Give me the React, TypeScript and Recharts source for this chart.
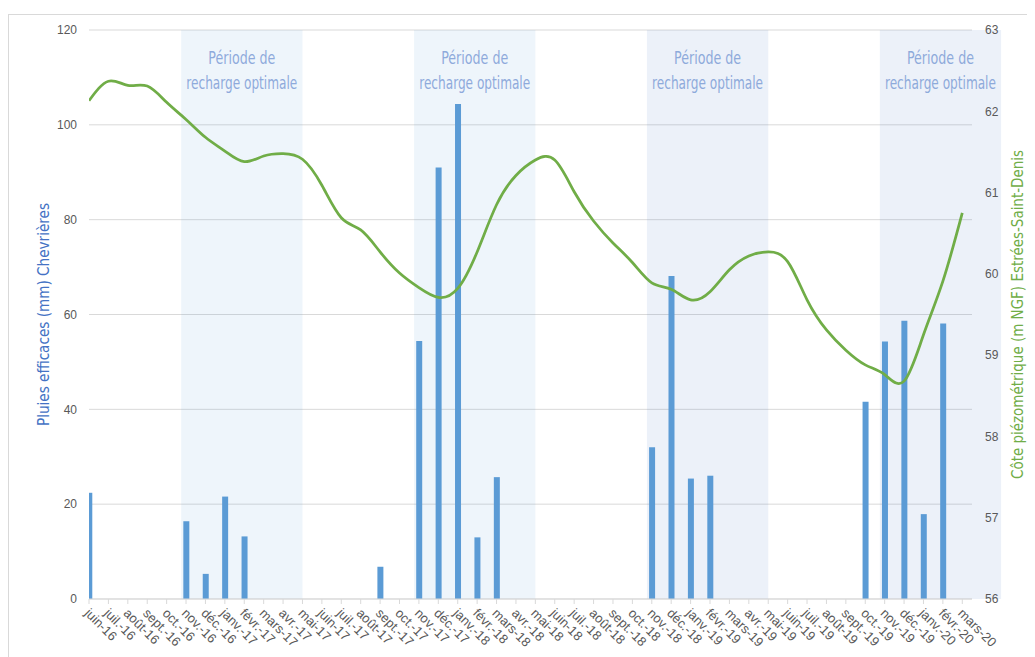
import React from 'react';
import {
  ComposedChart, Bar, Line, XAxis, YAxis, CartesianGrid, ReferenceArea,
} from 'recharts';

const months = [
  'juin-16', 'juil.-16', 'août-16', 'sept.-16', 'oct.-16', 'nov.-16', 'déc.-16', 'janv.-17', 'févr.-17', 'mars-17', 'avr.-17', 'mai-17',
  'juin-17', 'juil.-17', 'août-17', 'sept.-17', 'oct.-17', 'nov.-17', 'déc.-17', 'janv.-18', 'févr.-18', 'mars-18', 'avr.-18', 'mai-18',
  'juin-18', 'juil.-18', 'août-18', 'sept.-18', 'oct.-18', 'nov.-18', 'déc.-18', 'janv.-19', 'févr.-19', 'mars-19', 'avr.-19', 'mai-19',
  'juin-19', 'juil.-19', 'août-19', 'sept.-19', 'oct.-19', 'nov.-19', 'déc.-19', 'janv.-20', 'févr.-20', 'mars-20',
];

// Pluies efficaces (mm) Chevrières
const rain = [
  22.4, 0, 0, 0, 0, 16.4, 5.3, 21.6, 13.2, 0, 0, 0,
  0, 0, 0, 6.8, 0, 54.4, 91.0, 104.4, 13.0, 25.7, 0, 0,
  0, 0, 0, 0, 0, 32.0, 68.1, 25.4, 26.0, 0, 0, 0,
  0, 0, 0, 0, 41.6, 54.3, 58.7, 17.9, 58.1, 0,
];

// Côte piézométrique (m NGF) Estrées-Saint-Denis
const piezo = [
  62.13, 62.37, 62.32, 62.31, 62.11, 61.90, 61.68, 61.51, 61.38, 61.45, 61.48, 61.41,
  61.09, 60.69, 60.54, 60.27, 60.01, 59.83, 59.71, 59.82, 60.27, 60.85, 61.21, 61.40,
  61.40, 61.01, 60.65, 60.38, 60.14, 59.89, 59.81, 59.68, 59.78, 60.05, 60.22, 60.27,
  60.15, 59.68, 59.31, 59.06, 58.88, 58.76, 58.68, 59.25, 59.91, 60.75,
];

// périodes de recharge optimale (positions en mois depuis juin-16)
const rechargeStart = [4.75, 16.75, 28.75, 40.75];
const rechargeEnd = [11, 23, 35, 47];
const rechargeTint = ['#5B9BD5', '#5B9BD5', '#4472C4', '#4472C4'];

const leftTicks = [0, 20, 40, 60, 80, 100, 120];
const rightTicks = [56, 57, 58, 59, 60, 61, 62, 63];

const data = months.map((m, i) => ({ idx: i, month: m, rain: rain[i], piezo: piezo[i] }));
const monthTicks = months.map((_, i) => i);

const condensed = "'DejaVu Sans Condensed', 'Liberation Sans Narrow', 'DejaVu Sans', sans-serif";
const tickFont = "'Liberation Sans', Arial, sans-serif";

const MonthTick = (props: any) => {
  const { x, y, payload } = props;
  const tx = x - 5;
  const ty = y + 8;
  return (
    <text
      x={tx}
      y={ty}
      transform={`rotate(45 ${tx} ${ty})`}
      textAnchor="start"
      fontSize={13}
      fill="#595959"
      fontFamily={tickFont}
    >
      {months[payload.value]}
    </text>
  );
};

const PeriodLabel = (props: any) => {
  const { viewBox } = props;
  if (!viewBox) return null;
  const cx = viewBox.x + viewBox.width / 2;
  return (
    <g fill="#8EAADB" fontFamily={condensed} fontSize={17} textAnchor="middle" style={{ fontStretch: 'condensed' }}>
      <text x={cx} y={viewBox.y + 34} textLength={67} lengthAdjust="spacingAndGlyphs">Période de</text>
      <text x={cx} y={viewBox.y + 59} textLength={111} lengthAdjust="spacingAndGlyphs">recharge optimale</text>
    </g>
  );
};

const LeftTitle = (props: any) => {
  const { viewBox } = props;
  const cx = viewBox.x + 14;
  const cy = viewBox.y + viewBox.height / 2;
  return (
    <text
      x={cx}
      y={cy}
      transform={`rotate(-90 ${cx} ${cy})`}
      textAnchor="middle"
      dominantBaseline="central"
      fill="#4472C4"
      fontSize={16}
      fontFamily={condensed}
      textLength={223}
      lengthAdjust="spacingAndGlyphs"
    >
      Pluies efficaces (mm) Chevrières
    </text>
  );
};

const RightTitle = (props: any) => {
  const { viewBox } = props;
  const cx = viewBox.x + 45;
  const cy = viewBox.y + viewBox.height / 2;
  return (
    <text
      x={cx}
      y={cy}
      transform={`rotate(-90 ${cx} ${cy})`}
      textAnchor="middle"
      dominantBaseline="central"
      fill="#70AD47"
      fontSize={16}
      fontFamily={condensed}
      textLength={329}
      lengthAdjust="spacingAndGlyphs"
    >
      Côte piézométrique (m NGF) Estrées-Saint-Denis
    </text>
  );
};

export default function App() {
  return (
    <div
      style={{
        width: 1021,
        height: 660,
        marginTop: 6,
        border: '1px solid #D9D9D9',
        background: '#fff',
        boxSizing: 'border-box',
      }}
    >
      <ComposedChart
        width={1020}
        height={640}
        data={data}
        margin={{ top: 15, right: 20, bottom: 6, left: 20 }}
      >
        {rechargeStart.map((s, i) => (
          <ReferenceArea
            key={`rc-${i}`}
            xAxisId="x"
            yAxisId="left"
            x1={s}
            x2={rechargeEnd[i]}
            fill={rechargeTint[i]}
            fillOpacity={0.1}
            stroke="none"
            ifOverflow="visible"
            label={<PeriodLabel />}
          />
        ))}
        <CartesianGrid yAxisId="left" xAxisId="x" vertical={false} stroke="#D9D9D9" />
        <XAxis
          xAxisId="x"
          dataKey="idx"
          type="number"
          domain={[0, 45.5]}
          ticks={monthTicks}
          interval={0}
          allowDataOverflow
          height={50}
          axisLine={{ stroke: '#D9D9D9' }}
          tickLine={{ stroke: '#D9D9D9' }}
          tickSize={5}
          tickMargin={2}
          tick={<MonthTick />}
        />
        <YAxis
          yAxisId="left"
          width={60}
          domain={[0, 120]}
          ticks={leftTicks}
          axisLine={false}
          tickLine={false}
          tickSize={0}
          tickMargin={12}
          tick={{ fill: '#595959', fontSize: 12, fontFamily: tickFont }}
          label={<LeftTitle />}
        />
        <YAxis
          yAxisId="right"
          orientation="right"
          width={37}
          domain={[56, 63]}
          ticks={rightTicks}
          axisLine={false}
          tickLine={false}
          tickSize={0}
          tickMargin={13}
          tick={{ fill: '#595959', fontSize: 12, fontFamily: tickFont }}
          label={<RightTitle />}
        />
        <Bar
          xAxisId="x"
          yAxisId="left"
          dataKey="rain"
          fill="#5B9BD5"
          barSize={6}
          isAnimationActive={false}
        />
        <Line
          xAxisId="x"
          yAxisId="right"
          dataKey="piezo"
          type="natural"
          stroke="#70AD47"
          strokeWidth={2.75}
          dot={false}
          activeDot={false}
          isAnimationActive={false}
        />
      </ComposedChart>
    </div>
  );
}
